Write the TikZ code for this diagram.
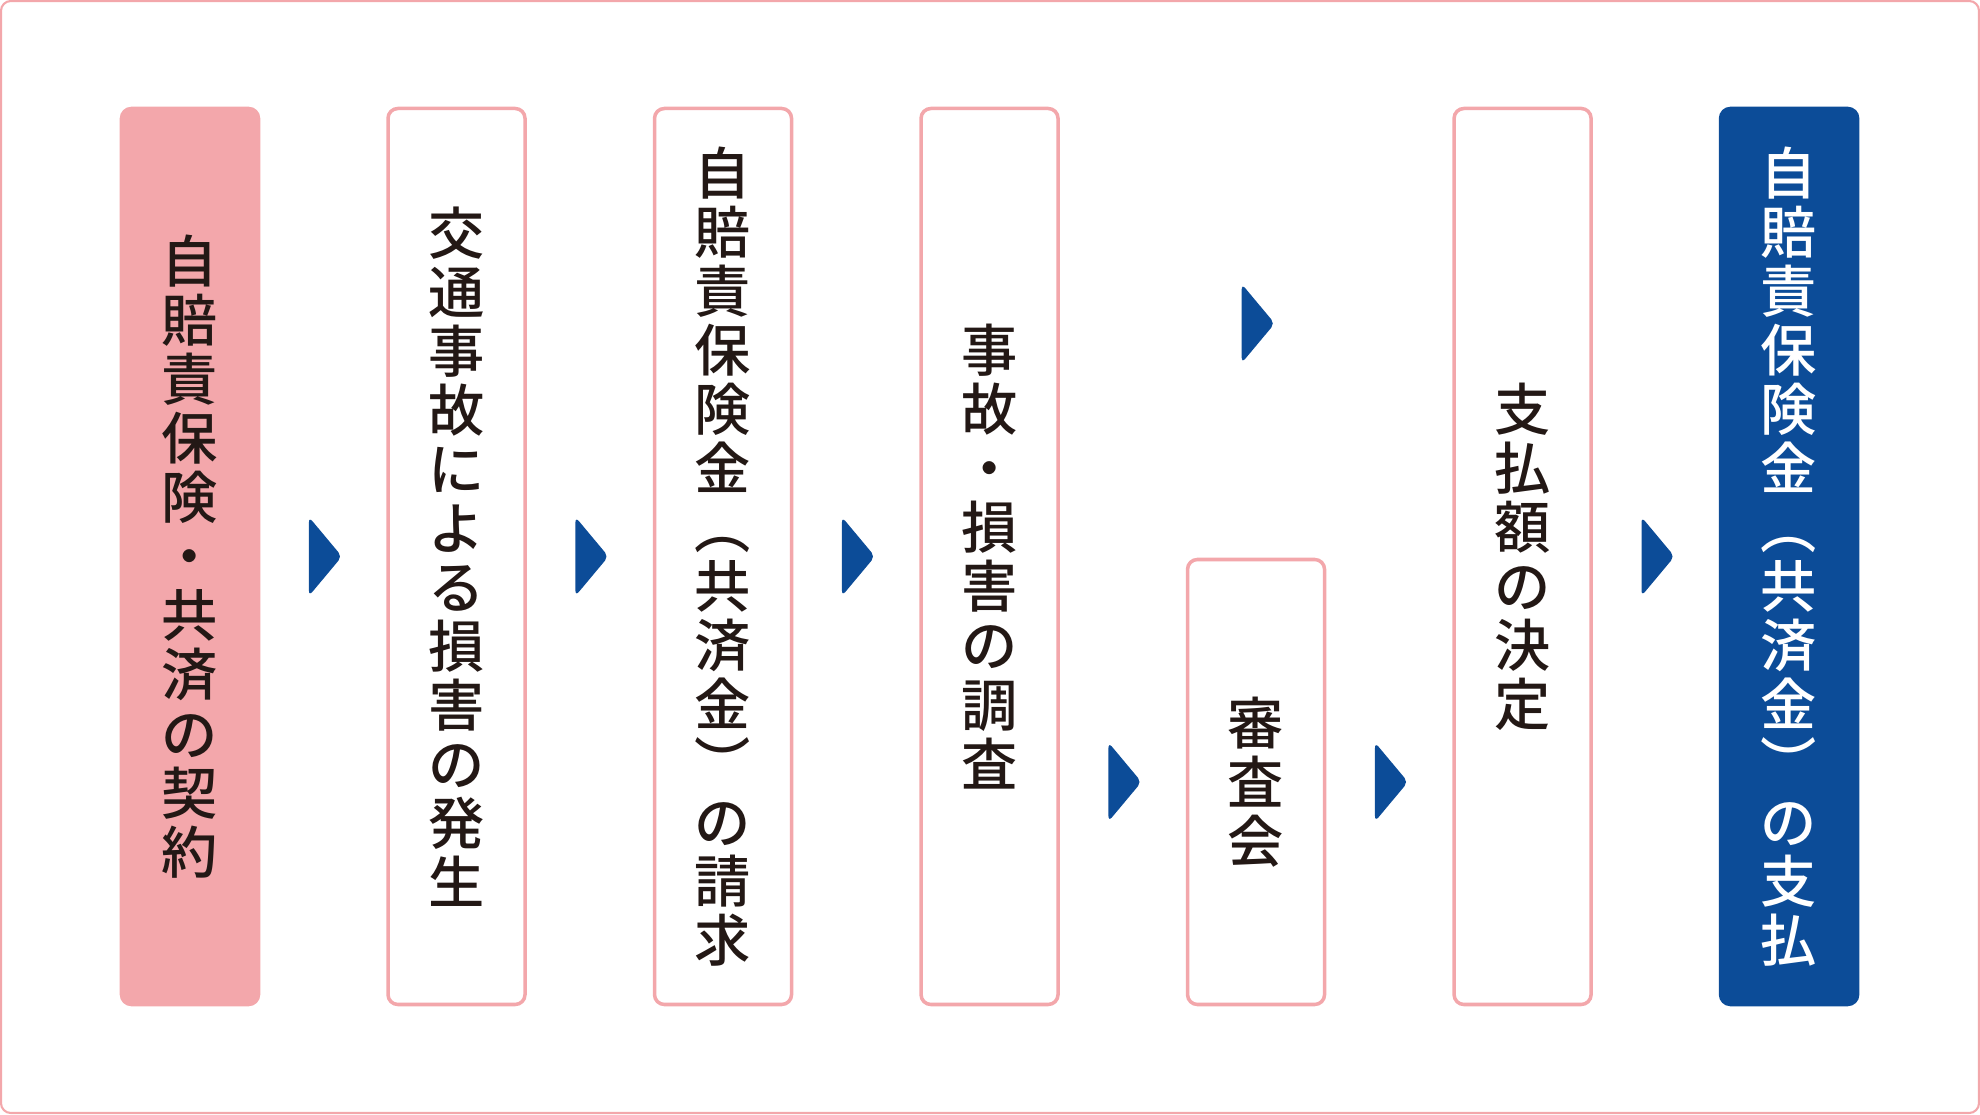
\documentclass[tikz,border=0pt]{standalone}
\usepackage{fontspec}
\usepackage{tikz}
\usetikzlibrary{positioning, shapes.geometric}
\newfontfamily\jpfont{Noto Sans CJK JP Medium}
\definecolor{cpink}{RGB}{243,167,171}
\definecolor{cblue}{RGB}{12,76,152}
\definecolor{ctext}{RGB}{35,24,21}

\begin{document}
\begin{tikzpicture}[
  node distance = 1.26cm,
  box/.style    = {rectangle, rounded corners=2.8pt, draw=cpink, fill=white,
                   line width=1pt, minimum width=1.37cm, minimum height=8.96cm,
                   inner sep=0pt, align=center, text=ctext,
                   font=\jpfont\fontsize{16pt}{16.8pt}\selectfont},
  tri/.style    = {isosceles triangle, isosceles triangle stretches,
                   shape border rotate=0, minimum width=0.79cm,
                   minimum height=0.33cm, inner sep=0pt, fill=cblue,
                   rounded corners=1.5pt},
  frame/.style  = {draw=cpink, line width=0.6pt, rounded corners=2.8pt},
]

\useasboundingbox (0,0) rectangle (19.8,11.14);
\draw[frame] (0.01,0.01) rectangle (19.79,11.13);

%% --- steps ---
\node[box, fill=cpink] (contract) at (1.90,5.575)
  {自\\賠\\責\\保\\険\\・\\共\\済\\の\\契\\約};
\node[box, right=of contract] (accident)
  {交\\通\\事\\故\\に\\よ\\る\\損\\害\\の\\発\\生};
\node[box, right=of accident] (claim)
  {自\\賠\\責\\保\\険\\金\\︵\\共\\済\\金\\︶\\の\\請\\求};
\node[box, right=of claim] (survey)
  {事\\故\\・\\損\\害\\の\\調\\査};
\node[box, minimum height=4.45cm, right=of survey.south east,
      anchor=south west] (review) {審\\査\\会};
\node[box, right=of review.south east, anchor=south west] (decide)
  {支\\払\\額\\の\\決\\定};
\node[box, fill=cblue, draw=cblue, text=white, right=of decide] (payment)
  {自\\賠\\責\\保\\険\\金\\︵\\共\\済\\金\\︶\\の\\支\\払};

%% --- arrows ---
\path (contract) -- node[tri] (a1) {} (accident);
\path (accident) -- node[tri] (a2) {} (claim);
\path (claim)    -- node[tri] (a3) {} (survey);
\path (survey.east |- review.west) -- node[tri] (a4) {} (review.west);
\path (review.east) -- node[tri] (a5) {} (decide.west |- review.east);
\path ([yshift=2.33cm]survey.east) -- node[tri] (a6) {} ([yshift=2.33cm]decide.west);
\path (decide)   -- node[tri] (a7) {} (payment);

\end{tikzpicture}
\end{document}
